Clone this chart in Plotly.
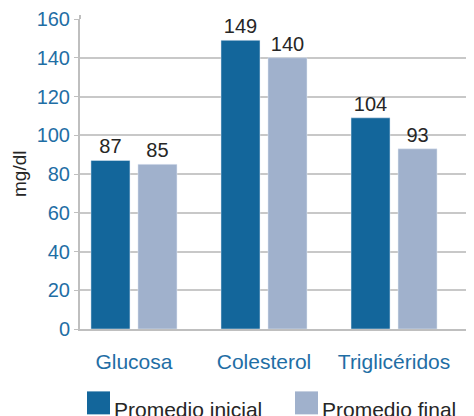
import plotly.graph_objects as go

categories = ["Glucosa", "Colesterol", "Triglicéridos"]
series_names = ["Promedio inicial", "Promedio final"]
inicial_values = [87, 149, 109]
final_values = [85, 140, 93]
inicial_labels = ["87", "149", "104"]
final_labels = ["85", "140", "93"]
y_ticks = [0, 20, 40, 60, 80, 100, 120, 140, 160]

# page body has an 8px margin: figure occupies image pixels 8..474 x 8..416
OFF = 8
W, H = 474 - OFF, 416 - OFF
L, R, T, B = 80 - OFF, 0, 19 - OFF, 86.5
pw, ph = W - L - R, H - T - B

def px_x(p):
    return (p - OFF - L) / pw

def px_y(p):
    return (H - B - (p - OFF)) / ph

dark = "#13669b"
light = "#a0b1cc"
tickblue = "#1f6ea5"
txt = "#262626"
FONT = "Liberation Sans, Arial, sans-serif"

fig = go.Figure()
fig.add_trace(go.Bar(x=categories, y=inicial_values, name=series_names[0],
                     marker_color=dark, text=inicial_labels, textposition="outside",
                     textfont=dict(size=20, color=txt, family=FONT), cliponaxis=False,
                     showlegend=False))
fig.add_trace(go.Bar(x=categories, y=final_values, name=series_names[1],
                     marker_color=light, text=final_labels, textposition="outside",
                     textfont=dict(size=20, color=txt, family=FONT), cliponaxis=False,
                     showlegend=False))

fig.update_layout(
    width=W, height=H,
    margin=dict(l=L, r=R, t=T, b=B, pad=0),
    paper_bgcolor="white", plot_bgcolor="white",
    barmode="group", bargap=0.277, bargroupgap=0.17,
    font=dict(family=FONT, size=20, color=txt),
    showlegend=False,
)
fig.update_xaxes(range=[-0.415, 2.615], showline=True, linecolor="#bfbfbf", linewidth=2,
                 ticks="", tickfont=dict(size=21, color=tickblue, family=FONT),
                 ticklabelstandoff=13, showgrid=False, zeroline=False, automargin=False)
fig.update_yaxes(range=[0, 160], tickvals=y_ticks, showline=True, linecolor="#bfbfbf",
                 linewidth=2, ticks="outside", ticklen=4, tickcolor="#bfbfbf",
                 tickfont=dict(size=20, color=tickblue, family=FONT),
                 ticklabelstandoff=0, showgrid=True, gridcolor="#c8c8c8", gridwidth=2,
                 zeroline=False, automargin=False)

# y axis line extends slightly above the top gridline
fig.add_shape(type="line", xref="paper", yref="paper", x0=0, x1=0, y0=1, y1=px_y(15),
              line=dict(color="#bfbfbf", width=2))

# y title
fig.add_annotation(text="mg/dl", xref="paper", yref="paper", x=px_x(19), y=0.5,
                   textangle=-90, showarrow=False, font=dict(size=19, color=txt, family=FONT),
                   xanchor="center", yanchor="middle")

# legend drawn manually
legend_items = [(87, series_names[0], dark), (295, series_names[1], light)]
for x0, name, col in legend_items:
    fig.add_shape(type="rect", xref="paper", yref="paper",
                  x0=px_x(x0), x1=px_x(x0 + 23), y0=px_y(392), y1=px_y(415),
                  fillcolor=col, line=dict(width=0))
    fig.add_annotation(text=name, xref="paper", yref="paper", x=px_x(x0 + 25), y=px_y(410),
                       xanchor="left", yanchor="middle", showarrow=False,
                       font=dict(size=21, color=txt, family=FONT))

fig.write_html("out.html")
